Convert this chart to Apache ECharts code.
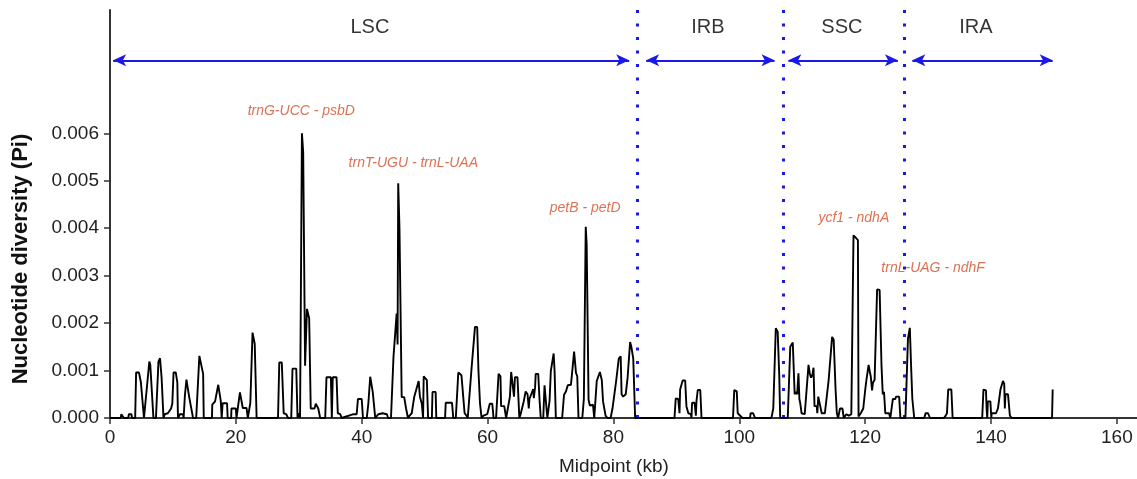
<!DOCTYPE html>
<html>
<head>
<meta charset="utf-8">
<script src="https://cdn.jsdelivr.net/npm/echarts@6/dist/echarts.min.js"></script>
<style>
html,body{margin:0;padding:0;background:#fff;}
#chart{width:1137px;height:479px;}
</style>
</head>
<body>
<div id="chart"></div>
<script>
// ---- data ----
const midpoints = [
0.0,1.7,1.8,2.1,2.2,2.9,3.0,3.4,3.5,4.0,4.15,4.6,4.9,5.2,5.4,5.7,6.25,6.4,6.65,6.9,7.3,7.7,7.95,8.2,8.5,8.7,9.2,9.7,9.9,10.1,10.45,10.7,10.8,11.1,11.6,11.7,11.9,12.15,12.45,12.6,12.9,13.2,13.7,14.2,14.5,14.8,14.9,16.2,16.25,16.7,17.2,17.6,17.75,17.9,18.6,18.7,19.25,19.3,20.0,20.1,20.65,21.1,21.7,21.9,22.3,22.65,23.0,23.3,
26.7,26.9,27.3,27.6,28.0,28.3,28.8,29.0,29.6,29.8,30.0,30.2,30.5,30.7,31.0,31.3,31.65,31.9,32.5,32.7,33.1,33.4,34.2,34.4,35.1,35.25,35.4,36.0,36.2,36.6,36.8,38.7,39.2,39.4,40.0,40.2,
40.8,41.05,41.35,41.75,41.95,42.15,42.65,43.3,44.0,44.2,44.65,45.05,45.55,45.7,45.8,46.0,46.35,46.75,47.05,47.35,47.6,47.95,48.35,49.05,49.25,49.55,49.75,49.85,50.35,50.55,51.15,51.25,51.75,51.85,53.25,53.35,54.35,54.55,54.95,55.35,55.85,56.35,56.65,56.85,57.15,57.45,58.0,58.35,58.55,58.8,59.05,59.35,59.95,60.35,60.75,60.95,
61.35,61.75,62.05,62.15,62.65,62.95,63.25,63.55,63.75,64.05,64.2,64.35,64.75,65.05,65.25,65.75,66.05,66.35,66.55,66.65,66.95,67.25,67.35,67.55,67.65,68.05,68.25,68.45,68.85,69.05,69.35,69.5,69.85,70.05,70.35,70.5,70.65,70.85,71.85,72.15,72.45,72.75,73.25,73.75,74.05,74.25,74.45,
75.05,75.3,75.6,75.75,75.95,76.05,76.25,76.75,76.95,77.35,77.85,78.15,78.35,78.75,79.05,79.55,79.85,80.15,80.45,80.85,81.15,81.3,81.55,81.95,82.25,82.65,82.85,83.15,83.45,
89.7,89.9,90.3,90.5,90.6,91.0,91.4,91.6,91.9,92.3,92.4,92.5,92.9,93.1,93.2,93.4,93.8,94.0,99.0,99.2,99.6,99.75,100.0,100.5,101.7,101.8,102.2,102.5,105.1,105.4,105.8,106.1,106.35,106.5,
107.7,108.1,108.5,108.8,109.0,109.2,109.4,109.55,109.7,109.9,110.4,111.0,111.2,111.4,111.6,111.8,111.95,112.3,112.4,112.55,112.8,113.1,113.6,114.2,114.75,115.0,115.3,115.5,115.7,116.0,116.4,116.6,117.0,117.4,117.8,118.15,118.5,118.85,118.95,119.3,119.7,120.0,120.2,120.55,120.75,120.9,121.1,121.25,121.5,121.9,122.3,122.6,122.8,123.0,123.2,123.8,124.0,124.3,124.4,124.8,124.9,125.4,125.6,
126.4,126.8,127.1,127.3,127.5,127.8,129.4,129.6,130.0,130.3,132.5,132.8,133.0,133.2,133.7,133.9,138.6,138.8,139.2,139.3,139.4,139.5,139.9,140.05,140.1,140.8,141.1,141.5,141.9,142.1,142.2,142.3,142.7,143.0,143.3,149.7,149.8
];
const diversity = [
0,0,0.00008,0.00008,0,0,0.00008,0.00008,0,0,0.00096,0.00096,0.00076,0.00075,0,0,0.00119,0.00112,0.0011,0,0,0.00119,0.00126,0.00085,0,0.00008,0.0001,0.0002,0.0003,0.00096,0.00096,0.00075,0,0.00008,0.00008,0,0.00047,0.00081,0.00081,0.00043,0.00042,0,0,0.00131,0.0013,0.00093,0,0,0.00028,0.00035,0.0007,0.00036,0,0.00031,0.00031,0,0,0.0002,0.0002,0,0.00054,0.00021,0.00021,0,0.00032,0.0018,0.00156,0,
0,0.00117,0.00117,0.0001,0.00008,0,0,0.00104,0.00104,0,0.0001,0,0.006,0.0056,0.0011,0.0023,0.0021,0.0002,0.0002,0.0003,0.0002,0,0,0.00086,0.00086,0,0.00086,0.00086,0.0001,0.00008,0,0.00008,0.00008,0.0004,0.0004,0,
0,0.0003,0.00087,0.00055,0.00055,0,0.00008,0.0001,0.00008,0,0,0.00129,0.0022,0.00155,0.00495,0.004,0.00044,0.00044,0.0002,0,0.00005,0.0001,0.00045,0.00078,0.00045,0.0003,0,0.00088,0.0008,0,0,0.00055,0.00055,0,0,0.00032,0.00032,0,0,0.00096,0.0009,0.0001,0.00005,0,0,0.00104,0.00192,0.00192,0.001,0.0003,0,0.00005,0.00008,0.0003,0.0003,0,
0,0.00093,0.00088,0.00025,0.00025,0,0,0.00045,0.00097,0.00096,0.00045,0.00086,0.00086,0,0.00008,0.00035,0.00056,0.0005,0.0002,0.0004,0.0004,0.00061,0.00042,0.00065,0.00093,0.00093,0.0004,0,0,0.00069,0.00069,0,0.00036,0.00099,0.001,0.00136,0.00099,0,0,0.00049,0.00056,0.00069,0.0007,0.0014,0.00095,0.00088,0,
0,0.0004,0.00403,0.00365,0.00365,0.00038,0.00026,0.00028,0,0.00078,0.00097,0.0008,0.00035,0.00005,0,0,0.0002,0.00022,0.0008,0.00125,0.0013,0.0005,0.00045,0.0005,0.00085,0.0016,0.0015,0.00125,0,
0,0.00041,0.0004,0.0001,0.0006,0.00079,0.00079,0.00025,0.0001,0.00008,0,0.00032,0.00032,0.00005,0.00036,0.00059,0.00059,0,0,0.00059,0.00056,0.0001,0.00008,0,0,0.0001,0.0001,0,0,0.0002,0.00189,0.00182,0.0009,0,
0,0.0015,0.00159,0.0005,0.00055,0.0005,0.00094,0.0004,0.0003,0.0001,0.00008,0.00112,0.00094,0.00085,0.0009,0.00106,0.00025,0.00025,0.0001,0.00045,0.00045,0.0001,0.0001,0.0008,0.00171,0.00165,0.0006,0.0001,0,0.0002,0.0002,0,0.00008,0.00005,0.00008,0.00385,0.0038,0.00375,0.00003,0.0001,0.0002,0.00058,0.0008,0.00112,0.00097,0.00087,0.00058,0.00075,0.0008,0.00271,0.0027,0.0011,0.0005,0.00055,0.0001,0.0001,0,0,0.0004,0.0004,0.00045,0.00045,0,
0,0.00167,0.0019,0.0011,0.0004,0,0,0.0001,0.0001,0,0,0.00005,0.0001,0.0006,0.0006,0,0,0.0006,0.00058,0.0002,0,0.00035,0.00035,0,0.0001,0.0001,0.0002,0.0006,0.00078,0.00072,0.0002,0.0005,0.0005,0.00005,0,0,0.0006
];
const xTicks = [0,20,40,60,80,100,120,140,160];
const yTicks = [0,0.001,0.002,0.003,0.004,0.005,0.006];
const regionNames = ['LSC','IRB','SSC','IRA'];
const regionLabelX = [41.3, 95.0, 116.3, 137.6];
const regionStart = [0.5, 85.2, 107.8, 127.5];
const regionEnd = [82.5, 105.6, 125.2, 149.8];
const boundaries = [83.8, 107.0, 126.2];
const geneNames = ['trnG-UCC - psbD','trnT-UGU - trnL-UAA','petB - petD','ycf1 - ndhA','trnL-UAG - ndhF'];
const geneX = [30.4, 48.2, 75.5, 118.2, 130.8];
const geneY = [0.00646, 0.00537, 0.00442, 0.00421, 0.00316];
const regionLabelY = 0.00823;
const arrowY = 0.00754;

// ---- chart ----
const chart = echarts.init(document.getElementById('chart'), null, {renderer:'canvas'});
const FONT = 'Liberation Sans, Arial, Helvetica, sans-serif';
const BLUE = '#1a1ae6';
const RED = '#d24d28';
const lineData = midpoints.map((m,i)=>[m, diversity[i]]);

chart.setOption({
  animation:false,
  backgroundColor:'#fff',
  grid:{left:110, right:0, top:10, bottom:61, containLabel:false},
  xAxis:{
    type:'value', min:0, max:163.2,
    axisLine:{show:true, lineStyle:{color:'#333', width:2}},
    axisTick:{show:true, length:6, lineStyle:{color:'#333', width:1.5}, customValues:xTicks},
    axisLabel:{show:true, fontSize:19, fontFamily:FONT, color:'#222', margin:10, customValues:xTicks, formatter:v=>String(v)},
    splitLine:{show:false}
  },
  yAxis:{
    type:'value', min:0, max:0.0086,
    axisLine:{show:true, lineStyle:{color:'#333', width:2}},
    axisTick:{show:true, length:6, lineStyle:{color:'#333', width:1.5}, customValues:yTicks},
    axisLabel:{show:true, fontSize:19, fontFamily:FONT, color:'#222', margin:11, customValues:yTicks, formatter:v=>v.toFixed(3)},
    splitLine:{show:false}
  },
  graphic:[
    {type:'text', left:559, top:457, style:{text:'Midpoint (kb)', font:'19px '+FONT, fill:'#222'}},
    {type:'text', x:21, y:259, rotation:Math.PI/2, style:{text:'Nucleotide diversity (Pi)', font:'bold 22px '+FONT, fill:'#111', textAlign:'center', textVerticalAlign:'middle'}}
  ],
  series:[
    {
      name:'Pi', type:'line', data:lineData, showSymbol:false, symbol:'none',
      lineStyle:{color:'#000', width:1.9}, z:5, silent:true
    },
    {
      name:'boundaries', type:'line', data:[], silent:true,
      markLine:{
        silent:true, symbol:['none','none'], label:{show:false},
        lineStyle:{color:BLUE, width:3, type:[3,10.5]},
        data: boundaries.map(b=>({xAxis:b}))
      }
    },
    {
      name:'regions', type:'line', data:[], silent:true,
      markLine:{
        silent:true, symbol:['arrow','arrow'], symbolSize:[9,13], label:{show:false},
        lineStyle:{color:BLUE, width:2, type:'solid'},
        data: regionStart.map((s,i)=>[{coord:[s, arrowY]},{coord:[regionEnd[i], arrowY]}])
      }
    },
    {
      name:'regionLabels', type:'scatter', silent:true, symbolSize:1,
      itemStyle:{color:'rgba(0,0,0,0)'},
      data: regionNames.map((n,i)=>({value:[regionLabelX[i], regionLabelY], name:n})),
      label:{show:true, position:'inside', formatter:p=>p.name, fontSize:20, fontFamily:FONT, color:'#000'}
    },
    {
      name:'geneLabels', type:'scatter', silent:true, symbolSize:1,
      itemStyle:{color:'rgba(0,0,0,0)'},
      data: geneNames.map((n,i)=>({value:[geneX[i], geneY[i]], name:n})),
      label:{show:true, position:'inside', formatter:p=>p.name, fontSize:14, fontStyle:'italic', fontFamily:FONT, color:RED}
    }
  ]
});
</script>
</body>
</html>
